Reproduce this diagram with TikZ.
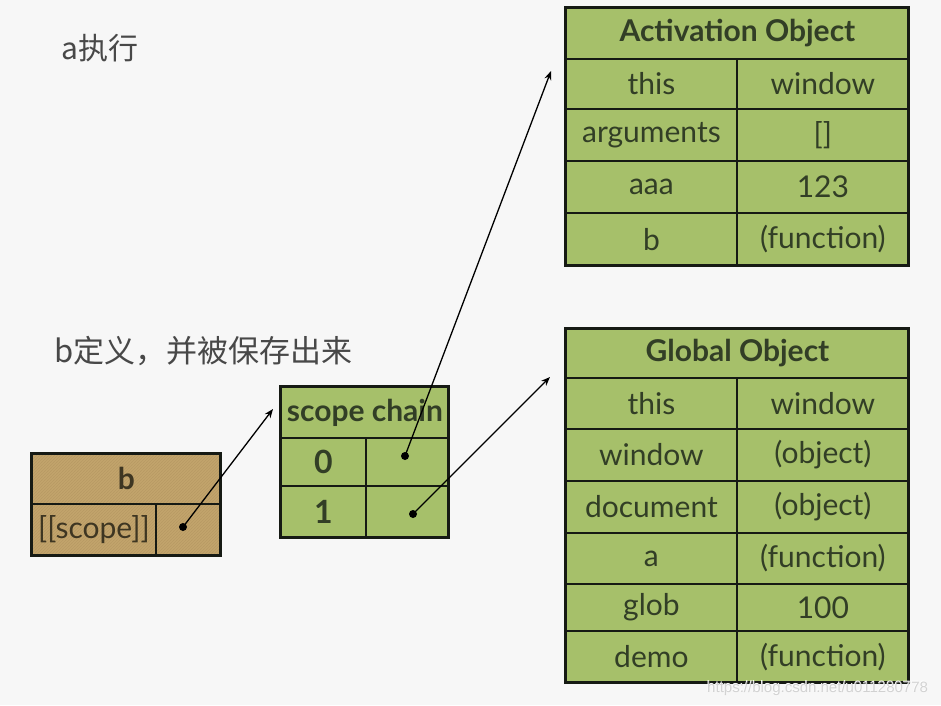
\documentclass[tikz,border=0pt]{standalone}
\usepackage{fontspec}
\setmainfont{Lato}
\newfontfamily\cjk{Noto Sans CJK SC}
\newfontfamily\wmfont{Liberation Sans}
\usetikzlibrary{patterns,arrows.meta}
\definecolor{bg}{HTML}{F7F7F7}
\definecolor{cellgreen}{RGB}{166,192,106}
\definecolor{tanfill}{RGB}{194,164,108}
\definecolor{tanline}{RGB}{184,154,100}
\definecolor{ink}{RGB}{50,62,38}
\definecolor{frame}{RGB}{22,26,20}
\definecolor{labelgray}{RGB}{72,72,72}
\begin{document}
\begin{tikzpicture}[x=1pt,y=-1pt,
  cell/.style={rectangle, draw=frame, line width=1.8pt, fill=cellgreen, inner sep=0pt,
    anchor=north west, text=ink, font=\fontsize{30}{32}\selectfont},
  head/.style={cell, font=\fontsize{30}{32}\selectfont\bfseries},
  tancell/.style={cell, fill=none, text={rgb,255:red,62;green,54;blue,34}},
  outer/.style={draw=frame, line width=3pt},
  dot/.style={circle, fill=black, inner sep=0pt, minimum size=8pt},
  arr/.style={draw=black, line width=1.3pt, -{Stealth[length=9pt,width=7pt]}},
  lbl/.style={anchor=west, text=labelgray, font=\cjk\fontsize{30}{32}\selectfont}]
\fill[bg] (0,0) rectangle (941,705);
\useasboundingbox (0,0) rectangle (941,705);

% labels
\node[lbl] (lblA) at (58,48) {a执行};
\node[lbl, font=\cjk\fontsize{31}{33}\selectfont] (lblB) at (51,351) {b定义，并被保存出来};

% Activation Object
\node[head, minimum width=343pt, minimum height=51pt] (aoh) at (565,7) {Activation Object};
\node[cell, minimum width=171pt, minimum height=50pt] (ao1k) at (565,58) {this};
\node[cell, minimum width=172pt, minimum height=50pt] (ao1v) at (736,58) {window};
\node[cell, minimum width=171pt, minimum height=52pt] (ao2k) at (565,108) {arguments};
\node[cell, minimum width=172pt, minimum height=52pt] (ao2v) at (736,108) {[]};
\node[cell, minimum width=171pt, minimum height=52pt] (ao3k) at (565,160) {aaa};
\node[cell, minimum width=172pt, minimum height=52pt] (ao3v) at (736,160) {123};
\node[cell, minimum width=171pt, minimum height=53pt] (ao4k) at (565,212) {b};
\node[cell, minimum width=172pt, minimum height=53pt] (ao4v) at (736,212) {(function)};
\draw[outer] (565,7) rectangle (908,265);

% Global Object
\node[head, minimum width=343pt, minimum height=49pt] (goh) at (565,328) {Global Object};
\node[cell, minimum width=171pt, minimum height=51pt] (go1k) at (565,377) {this};
\node[cell, minimum width=172pt, minimum height=51pt] (go1v) at (736,377) {window};
\node[cell, minimum width=171pt, minimum height=52pt] (go2k) at (565,428) {window};
\node[cell, minimum width=172pt, minimum height=52pt] (go2v) at (736,428) {(object)};
\node[cell, minimum width=171pt, minimum height=52pt] (go3k) at (565,480) {document};
\node[cell, minimum width=172pt, minimum height=52pt] (go3v) at (736,480) {(object)};
\node[cell, minimum width=171pt, minimum height=51pt] (go4k) at (565,532) {a};
\node[cell, minimum width=172pt, minimum height=51pt] (go4v) at (736,532) {(function)};
\node[cell, minimum width=171pt, minimum height=47pt] (go5k) at (565,583) {glob};
\node[cell, minimum width=172pt, minimum height=47pt] (go5v) at (736,583) {100};
\node[cell, minimum width=171pt, minimum height=52pt] (go6k) at (565,630) {demo};
\node[cell, minimum width=172pt, minimum height=52pt] (go6v) at (736,630) {(function)};
\draw[outer] (565,328) rectangle (908,682);

% scope chain
\node[head, minimum width=168pt, minimum height=51pt, font=\fontsize{30}{32}\selectfont\bfseries] (sch) at (280,386) {scope chain};
\node[head, minimum width=85pt, minimum height=48pt, font=\fontsize{32}{34}\selectfont\bfseries] (sc0k) at (280,437) {0};
\node[cell, minimum width=83pt, minimum height=48pt] (sc0v) at (365,437) {};
\node[head, minimum width=85pt, minimum height=52pt, font=\fontsize{32}{34}\selectfont\bfseries] (sc1k) at (280,485) {1};
\node[cell, minimum width=83pt, minimum height=52pt] (sc1v) at (365,485) {};
\draw[outer] (280,386) rectangle (448,537);

% b box
\fill[tanfill] (31,453) rectangle (220,555);
\fill[pattern=north east lines, pattern color=tanline] (32,454) rectangle (219,554);
\node[tancell, font=\fontsize{30}{32}\selectfont\bfseries, minimum width=189pt, minimum height=50pt] (bh) at (31,453) {b};
\node[tancell, minimum width=124pt, minimum height=52pt] (bk) at (31,503) {[[scope]]};
\node[tancell, minimum width=65pt, minimum height=52pt] (bv) at (155,503) {};
\draw[outer] (31,453) rectangle (220,555);

% dots and arrows
\node[dot] (bdot) at (183,527) {};
\node[dot] (sc0dot) at (405,456) {};
\node[dot] (sc1dot) at (413,514) {};
\coordinate (scin) at (273,409);
\coordinate (aoin) at (551,71);
\coordinate (goin) at (550,377);
\draw[arr] (bdot.center) -- (scin);
\draw[arr] (sc0dot.center) -- (aoin);
\draw[arr] (sc1dot.center) -- (goin);

% watermark
\node[anchor=east, text=white, font=\wmfont\fontsize{15}{16}\selectfont] (wm) at (931,688) {https://blog.csdn.net/u011280778};
\node[anchor=east, text=gray!55, font=\wmfont\fontsize{15}{16}\selectfont, opacity=0.6] (wm2) at (931.5,688.5) {https://blog.csdn.net/u011280778};
\end{tikzpicture}
\end{document}
